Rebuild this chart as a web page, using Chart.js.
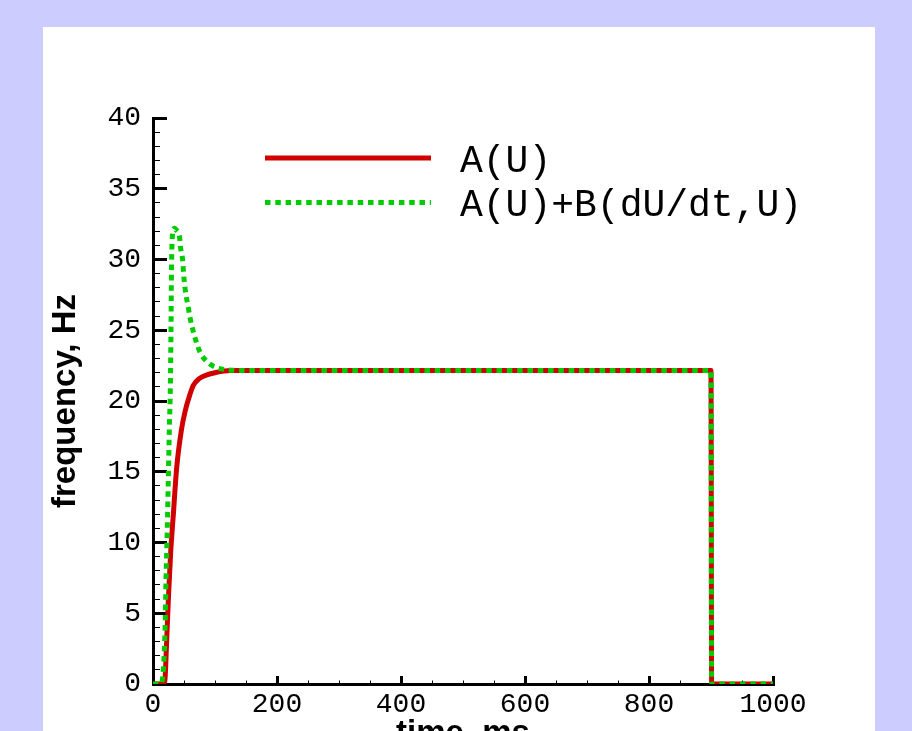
<!DOCTYPE html>
<html>
<head>
<meta charset="utf-8">
<script src="https://cdn.jsdelivr.net/npm/chart.js@4/dist/chart.umd.min.js"></script>
<style>
  html, body { margin: 0; padding: 0; background: #ccccff; overflow: hidden; width: 912px; height: 731px; }
  #panel { position: absolute; left: 43px; top: 27px; width: 832px; height: 760px; background: #ffffff; }
  canvas { display: block; }
</style>
</head>
<body>
<div id="panel"><canvas id="c" width="832" height="760"></canvas></div>
<script>
// ---- data ----
const seriesLabels = ['A(U)', 'A(U)+B(dU/dt,U)'];

const timeA = [0, 15, 19, 22, 25, 28.5, 33, 38, 46, 52, 57, 65, 75, 87, 100, 125, 900, 901, 1000];
const freqA = [0, 0, 0.2, 3, 6.2, 9.3, 12.1, 15.2, 18, 19.3, 20.1, 21.1, 21.6, 21.85, 22.0, 22.15, 22.15, 0, 0];

const timeAB = [0, 13, 16.6, 19.4, 21, 23, 24.7, 26.3, 28, 29, 30.1, 32.8, 35, 37, 42.5, 44.6, 47.8, 50, 53.2, 57, 59.7, 65, 70.4, 75.8, 86.6, 100, 121.5, 150, 900, 901, 1000];
const freqAB = [0, 0, 1.0, 3.8, 7.4, 10.9, 14.5, 18, 21, 25, 30.1, 32.1, 32.2, 32.1, 31.7, 30.8, 29.95, 28.65, 27.5, 26.6, 25.9, 24.9, 24.1, 23.45, 22.8, 22.4, 22.2, 22.15, 22.15, 0, 0];

const xTickLabels = [0, 200, 400, 600, 800, 1000];
const yTickLabels = [0, 5, 10, 15, 20, 25, 30, 35, 40];

const toPoints = (xs, ys) => xs.map((x, i) => ({ x: x, y: ys[i] }));

// legend drawn inside the plot, from the datasets themselves
const insideLegend = {
  id: 'insideLegend',
  afterDraw(chart) {
    const ctx = chart.ctx;
    const a = chart.chartArea;
    chart.data.datasets.forEach((ds, i) => {
      const ly = a.top + 40 + i * 44.5;
      ctx.save();
      ctx.strokeStyle = ds.borderColor;
      ctx.lineWidth = ds.borderWidth;
      ctx.lineCap = 'butt';
      ctx.setLineDash(ds.borderDash || []);
      ctx.beginPath();
      ctx.moveTo(a.left + 112, ly);
      ctx.lineTo(a.left + 278, ly);
      ctx.stroke();
      ctx.setLineDash([]);
      ctx.fillStyle = '#000000';
      ctx.font = '38px "Liberation Mono", "Courier New", monospace';
      ctx.textBaseline = 'middle';
      ctx.textAlign = 'left';
      ctx.fillText(ds.label, a.left + 307, ly + 3.5);
      ctx.restore();
    });
  }
};

const isMajorY = (ctx) => ctx.tick && yTickLabels.includes(ctx.tick.value);
const isMajorX = (ctx) => ctx.tick && xTickLabels.includes(ctx.tick.value);

new Chart(document.getElementById('c'), {
  type: 'line',
  data: {
    datasets: [
      {
        label: seriesLabels[0],
        data: toPoints(timeA, freqA),
        borderColor: '#d00000',
        borderWidth: 5,
        pointRadius: 0,
        cubicInterpolationMode: 'monotone',
        fill: false,
        order: 2
      },
      {
        label: seriesLabels[1],
        data: toPoints(timeAB, freqAB),
        borderColor: '#00cc00',
        borderWidth: 5,
        borderDash: [5.5, 4.8],
        borderCapStyle: 'butt',
        pointRadius: 0,
        cubicInterpolationMode: 'monotone',
        fill: false,
        order: 1
      }
    ]
  },
  options: {
    responsive: false,
    animation: false,
    events: [],
    layout: { padding: { left: 0, top: 91, right: 102, bottom: 0 } },
    plugins: { legend: { display: false }, tooltip: { enabled: false } },
    scales: {
      x: {
        type: 'linear',
        position: 'bottom',
        min: 0,
        max: 1000,
        afterFit: (s) => { s.height = 103; },
        border: { display: true, color: '#000000', width: 3 },
        grid: {
          drawOnChartArea: false,
          drawTicks: true,
          tickLength: -8,
          tickColor: '#000000',
          tickWidth: (ctx) => isMajorX(ctx) ? 3 : 1,
          tickBorderDash: (ctx) => isMajorX(ctx) ? [] : [5.5, 100]
        },
        ticks: {
          stepSize: 50,
          autoSkip: false,
          maxRotation: 0,
          padding: 12,
          color: '#000000',
          font: { family: '"Liberation Mono", "Courier New", monospace', size: 28 },
          callback: (v) => xTickLabels.includes(v) ? String(v) : ''
        },
        title: {
          display: true,
          text: 'time, ms',
          color: '#000000',
          font: { family: '"Liberation Sans", Arial, sans-serif', size: 33, weight: 'bold' },
          padding: { top: 0, bottom: 33 }
        }
      },
      y: {
        type: 'linear',
        position: 'left',
        min: 0,
        max: 40,
        afterFit: (s) => { s.width = 110; },
        border: { display: true, color: '#000000', width: 3 },
        grid: {
          drawOnChartArea: false,
          drawTicks: true,
          tickLength: -14,
          tickColor: '#000000',
          tickWidth: (ctx) => isMajorY(ctx) ? 3 : 1,
          tickBorderDash: (ctx) => isMajorY(ctx) ? [] : [0, 7, 100]
        },
        ticks: {
          stepSize: 1,
          autoSkip: false,
          padding: 26,
          color: '#000000',
          font: { family: '"Liberation Mono", "Courier New", monospace', size: 28 },
          callback: (v) => yTickLabels.includes(v) ? String(v) : ''
        },
        title: {
          display: true,
          text: 'frequency, Hz',
          color: '#000000',
          font: { family: '"Liberation Sans", Arial, sans-serif', size: 33, weight: 'bold' },
          padding: { top: 2.8, bottom: 0 }
        }
      }
    }
  },
  plugins: [insideLegend]
});
</script>
</body>
</html>
